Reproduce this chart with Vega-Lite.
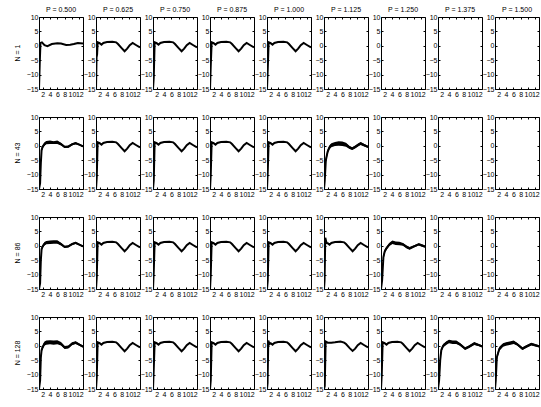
{
"$schema": "https://vega.github.io/schema/vega-lite/v6.json",
"padding": {"left": 14, "top": 6, "right": 0, "bottom": 0},
"bounds": "flush",
"spacing": {"row": 28, "column": 13},
"data": {"values": [
{"n":1,"p":"P = 0.500","x":1,"y":-15},{"n":1,"p":"P = 0.500","x":1.2,"y":-6},{"n":1,"p":"P = 0.500","x":1.4,"y":1.0},{"n":1,"p":"P = 0.500","x":1.8,"y":1.2},{"n":1,"p":"P = 0.500","x":2.5,"y":0.2},{"n":1,"p":"P = 0.500","x":3.3,"y":-0.1},{"n":1,"p":"P = 0.500","x":4.5,"y":0.6},{"n":1,"p":"P = 0.500","x":6,"y":0.9},{"n":1,"p":"P = 0.500","x":7,"y":0.8},{"n":1,"p":"P = 0.500","x":8.4,"y":0.3},{"n":1,"p":"P = 0.500","x":9.5,"y":0.4},{"n":1,"p":"P = 0.500","x":10.5,"y":0.6},{"n":1,"p":"P = 0.500","x":11.6,"y":1.0},{"n":1,"p":"P = 0.500","x":13,"y":0.8},

{"n":1,"p":"P = 0.625","x":1,"y":-15},{"n":1,"p":"P = 0.625","x":1.15,"y":-4},{"n":1,"p":"P = 0.625","x":1.3,"y":-3},{"n":1,"p":"P = 0.625","x":1.45,"y":1.2},{"n":1,"p":"P = 0.625","x":2,"y":0.9},{"n":1,"p":"P = 0.625","x":2.5,"y":0.4},{"n":1,"p":"P = 0.625","x":3,"y":1.0},{"n":1,"p":"P = 0.625","x":4,"y":1.3},{"n":1,"p":"P = 0.625","x":5.5,"y":1.4},{"n":1,"p":"P = 0.625","x":6.5,"y":1.2},{"n":1,"p":"P = 0.625","x":7,"y":0.6},{"n":1,"p":"P = 0.625","x":8,"y":-0.8},{"n":1,"p":"P = 0.625","x":8.8,"y":-1.9},{"n":1,"p":"P = 0.625","x":9.5,"y":-1.0},{"n":1,"p":"P = 0.625","x":10.2,"y":0.2},{"n":1,"p":"P = 0.625","x":11,"y":1.0},{"n":1,"p":"P = 0.625","x":12,"y":0.2},{"n":1,"p":"P = 0.625","x":13,"y":-0.6},

{"n":1,"p":"P = 0.750","x":1,"y":-15},{"n":1,"p":"P = 0.750","x":1.2,"y":-11},{"n":1,"p":"P = 0.750","x":1.45,"y":1.2},{"n":1,"p":"P = 0.750","x":2,"y":0.9},{"n":1,"p":"P = 0.750","x":2.5,"y":0.4},{"n":1,"p":"P = 0.750","x":3,"y":1.0},{"n":1,"p":"P = 0.750","x":4,"y":1.3},{"n":1,"p":"P = 0.750","x":5.5,"y":1.4},{"n":1,"p":"P = 0.750","x":6.5,"y":1.2},{"n":1,"p":"P = 0.750","x":7,"y":0.6},{"n":1,"p":"P = 0.750","x":8,"y":-0.8},{"n":1,"p":"P = 0.750","x":8.8,"y":-1.9},{"n":1,"p":"P = 0.750","x":9.5,"y":-1.0},{"n":1,"p":"P = 0.750","x":10.2,"y":0.2},{"n":1,"p":"P = 0.750","x":11,"y":1.0},{"n":1,"p":"P = 0.750","x":12,"y":0.2},{"n":1,"p":"P = 0.750","x":13,"y":-0.6},

{"n":1,"p":"P = 0.875","x":1,"y":-15},{"n":1,"p":"P = 0.875","x":1.2,"y":-7},{"n":1,"p":"P = 0.875","x":1.45,"y":1.2},{"n":1,"p":"P = 0.875","x":2,"y":0.9},{"n":1,"p":"P = 0.875","x":2.5,"y":0.4},{"n":1,"p":"P = 0.875","x":3,"y":1.0},{"n":1,"p":"P = 0.875","x":4,"y":1.3},{"n":1,"p":"P = 0.875","x":5.5,"y":1.4},{"n":1,"p":"P = 0.875","x":6.5,"y":1.2},{"n":1,"p":"P = 0.875","x":7,"y":0.6},{"n":1,"p":"P = 0.875","x":8,"y":-0.8},{"n":1,"p":"P = 0.875","x":8.8,"y":-1.9},{"n":1,"p":"P = 0.875","x":9.5,"y":-1.0},{"n":1,"p":"P = 0.875","x":10.2,"y":0.2},{"n":1,"p":"P = 0.875","x":11,"y":1.0},{"n":1,"p":"P = 0.875","x":12,"y":0.2},{"n":1,"p":"P = 0.875","x":13,"y":-0.6},

{"n":1,"p":"P = 1.000","x":1,"y":-15},{"n":1,"p":"P = 1.000","x":1.2,"y":-8},{"n":1,"p":"P = 1.000","x":1.45,"y":1.2},{"n":1,"p":"P = 1.000","x":2,"y":0.9},{"n":1,"p":"P = 1.000","x":2.5,"y":0.4},{"n":1,"p":"P = 1.000","x":3,"y":1.0},{"n":1,"p":"P = 1.000","x":4,"y":1.3},{"n":1,"p":"P = 1.000","x":5.5,"y":1.4},{"n":1,"p":"P = 1.000","x":6.5,"y":1.2},{"n":1,"p":"P = 1.000","x":7,"y":0.6},{"n":1,"p":"P = 1.000","x":8,"y":-0.8},{"n":1,"p":"P = 1.000","x":8.8,"y":-1.9},{"n":1,"p":"P = 1.000","x":9.5,"y":-1.0},{"n":1,"p":"P = 1.000","x":10.2,"y":0.2},{"n":1,"p":"P = 1.000","x":11,"y":1.0},{"n":1,"p":"P = 1.000","x":12,"y":0.2},{"n":1,"p":"P = 1.000","x":13,"y":-0.6},

{"n":1,"p":"P = 1.125"},{"n":1,"p":"P = 1.250"},{"n":1,"p":"P = 1.375"},{"n":1,"p":"P = 1.500"},

{"n":43,"p":"P = 0.500","x":1,"y":-15,"lo":-15,"hi":-15},{"n":43,"p":"P = 0.500","x":1.3,"y":-13,"lo":-13.5,"hi":-12.5},{"n":43,"p":"P = 0.500","x":1.5,"y":-6,"lo":-7,"hi":-5},{"n":43,"p":"P = 0.500","x":1.7,"y":-1.5,"lo":-2.3,"hi":-0.7},{"n":43,"p":"P = 0.500","x":2,"y":-0.3,"lo":-0.9,"hi":0.3},{"n":43,"p":"P = 0.500","x":2.5,"y":0.6,"lo":0,"hi":1.2},{"n":43,"p":"P = 0.500","x":3,"y":1.1,"lo":0.5,"hi":1.7},{"n":43,"p":"P = 0.500","x":4,"y":1.2,"lo":0.6,"hi":1.8},{"n":43,"p":"P = 0.500","x":5,"y":1.1,"lo":0.6,"hi":1.6},{"n":43,"p":"P = 0.500","x":6,"y":1.2,"lo":0.6,"hi":1.8},{"n":43,"p":"P = 0.500","x":7,"y":0.6,"lo":0.1,"hi":1.1},{"n":43,"p":"P = 0.500","x":8,"y":-0.4,"lo":-0.8,"hi":0},{"n":43,"p":"P = 0.500","x":9,"y":-0.3,"lo":-0.7,"hi":0.1},{"n":43,"p":"P = 0.500","x":10,"y":0.5,"lo":0.1,"hi":0.9},{"n":43,"p":"P = 0.500","x":11,"y":0.9,"lo":0.5,"hi":1.3},{"n":43,"p":"P = 0.500","x":12,"y":0.4,"lo":0.1,"hi":0.7},{"n":43,"p":"P = 0.500","x":13,"y":-0.2,"lo":-0.5,"hi":0.1},

{"n":43,"p":"P = 0.625","x":1,"y":-15},{"n":43,"p":"P = 0.625","x":1.2,"y":-11},{"n":43,"p":"P = 0.625","x":1.45,"y":1.2},{"n":43,"p":"P = 0.625","x":2,"y":0.9},{"n":43,"p":"P = 0.625","x":2.5,"y":0.4},{"n":43,"p":"P = 0.625","x":3,"y":1.0},{"n":43,"p":"P = 0.625","x":4,"y":1.3},{"n":43,"p":"P = 0.625","x":5.5,"y":1.4},{"n":43,"p":"P = 0.625","x":6.5,"y":1.2},{"n":43,"p":"P = 0.625","x":7,"y":0.6},{"n":43,"p":"P = 0.625","x":8,"y":-0.8},{"n":43,"p":"P = 0.625","x":8.8,"y":-1.9},{"n":43,"p":"P = 0.625","x":9.5,"y":-1.0},{"n":43,"p":"P = 0.625","x":10.2,"y":0.2},{"n":43,"p":"P = 0.625","x":11,"y":1.0},{"n":43,"p":"P = 0.625","x":12,"y":0.2},{"n":43,"p":"P = 0.625","x":13,"y":-0.6},

{"n":43,"p":"P = 0.750","x":1,"y":-15},{"n":43,"p":"P = 0.750","x":1.2,"y":-12},{"n":43,"p":"P = 0.750","x":1.45,"y":1.2},{"n":43,"p":"P = 0.750","x":2,"y":0.9},{"n":43,"p":"P = 0.750","x":2.5,"y":0.4},{"n":43,"p":"P = 0.750","x":3,"y":1.0},{"n":43,"p":"P = 0.750","x":4,"y":1.3},{"n":43,"p":"P = 0.750","x":5.5,"y":1.4},{"n":43,"p":"P = 0.750","x":6.5,"y":1.2},{"n":43,"p":"P = 0.750","x":7,"y":0.6},{"n":43,"p":"P = 0.750","x":8,"y":-0.8},{"n":43,"p":"P = 0.750","x":8.8,"y":-1.9},{"n":43,"p":"P = 0.750","x":9.5,"y":-1.0},{"n":43,"p":"P = 0.750","x":10.2,"y":0.2},{"n":43,"p":"P = 0.750","x":11,"y":1.0},{"n":43,"p":"P = 0.750","x":12,"y":0.2},{"n":43,"p":"P = 0.750","x":13,"y":-0.6},

{"n":43,"p":"P = 0.875","x":1,"y":-15},{"n":43,"p":"P = 0.875","x":1.2,"y":-10},{"n":43,"p":"P = 0.875","x":1.45,"y":1.2},{"n":43,"p":"P = 0.875","x":2,"y":0.9},{"n":43,"p":"P = 0.875","x":2.5,"y":0.4},{"n":43,"p":"P = 0.875","x":3,"y":1.0},{"n":43,"p":"P = 0.875","x":4,"y":1.3},{"n":43,"p":"P = 0.875","x":5.5,"y":1.4},{"n":43,"p":"P = 0.875","x":6.5,"y":1.2},{"n":43,"p":"P = 0.875","x":7,"y":0.6},{"n":43,"p":"P = 0.875","x":8,"y":-0.8},{"n":43,"p":"P = 0.875","x":8.8,"y":-1.9},{"n":43,"p":"P = 0.875","x":9.5,"y":-1.0},{"n":43,"p":"P = 0.875","x":10.2,"y":0.2},{"n":43,"p":"P = 0.875","x":11,"y":1.0},{"n":43,"p":"P = 0.875","x":12,"y":0.2},{"n":43,"p":"P = 0.875","x":13,"y":-0.6},

{"n":43,"p":"P = 1.000","x":1,"y":-15},{"n":43,"p":"P = 1.000","x":1.2,"y":-9},{"n":43,"p":"P = 1.000","x":1.45,"y":1.2},{"n":43,"p":"P = 1.000","x":2,"y":0.9},{"n":43,"p":"P = 1.000","x":2.5,"y":0.4},{"n":43,"p":"P = 1.000","x":3,"y":1.0},{"n":43,"p":"P = 1.000","x":4,"y":1.3},{"n":43,"p":"P = 1.000","x":5.5,"y":1.4},{"n":43,"p":"P = 1.000","x":6.5,"y":1.2},{"n":43,"p":"P = 1.000","x":7,"y":0.6},{"n":43,"p":"P = 1.000","x":8,"y":-0.8},{"n":43,"p":"P = 1.000","x":8.8,"y":-1.9},{"n":43,"p":"P = 1.000","x":9.5,"y":-1.0},{"n":43,"p":"P = 1.000","x":10.2,"y":0.2},{"n":43,"p":"P = 1.000","x":11,"y":1.0},{"n":43,"p":"P = 1.000","x":12,"y":0.2},{"n":43,"p":"P = 1.000","x":13,"y":-0.6},

{"n":43,"p":"P = 1.125","x":1,"y":-15,"lo":-15,"hi":-15},{"n":43,"p":"P = 1.125","x":1.2,"y":-12,"lo":-12.5,"hi":-11.5},{"n":43,"p":"P = 1.125","x":1.5,"y":-5,"lo":-6,"hi":-4},{"n":43,"p":"P = 1.125","x":2,"y":-2,"lo":-2.8,"hi":-1.2},{"n":43,"p":"P = 1.125","x":2.5,"y":-0.5,"lo":-1.2,"hi":0.2},{"n":43,"p":"P = 1.125","x":3,"y":0.2,"lo":-0.5,"hi":0.9},{"n":43,"p":"P = 1.125","x":4,"y":0.6,"lo":-0.1,"hi":1.3},{"n":43,"p":"P = 1.125","x":5,"y":0.8,"lo":0,"hi":1.6},{"n":43,"p":"P = 1.125","x":6,"y":0.7,"lo":-0.1,"hi":1.5},{"n":43,"p":"P = 1.125","x":7,"y":0.4,"lo":-0.3,"hi":1.1},{"n":43,"p":"P = 1.125","x":8,"y":-0.6,"lo":-1.1,"hi":-0.1},{"n":43,"p":"P = 1.125","x":8.7,"y":-1.0,"lo":-1.5,"hi":-0.5},{"n":43,"p":"P = 1.125","x":9.5,"y":-0.4,"lo":-0.9,"hi":0.1},{"n":43,"p":"P = 1.125","x":10.3,"y":0.3,"lo":-0.2,"hi":0.8},{"n":43,"p":"P = 1.125","x":11,"y":0.8,"lo":0.3,"hi":1.3},{"n":43,"p":"P = 1.125","x":12,"y":0.2,"lo":-0.2,"hi":0.6},{"n":43,"p":"P = 1.125","x":13,"y":-0.4,"lo":-0.8,"hi":0},

{"n":43,"p":"P = 1.250"},{"n":43,"p":"P = 1.375"},{"n":43,"p":"P = 1.500"},

{"n":86,"p":"P = 0.500","x":1,"y":-15,"lo":-15,"hi":-15},{"n":86,"p":"P = 0.500","x":1.3,"y":-13,"lo":-13.5,"hi":-12.5},{"n":86,"p":"P = 0.500","x":1.5,"y":-5,"lo":-6,"hi":-4},{"n":86,"p":"P = 0.500","x":1.7,"y":-1.2,"lo":-2,"hi":-0.4},{"n":86,"p":"P = 0.500","x":2,"y":-0.2,"lo":-0.8,"hi":0.4},{"n":86,"p":"P = 0.500","x":2.5,"y":0.7,"lo":0.1,"hi":1.3},{"n":86,"p":"P = 0.500","x":3,"y":1.1,"lo":0.5,"hi":1.7},{"n":86,"p":"P = 0.500","x":4,"y":1.2,"lo":0.6,"hi":1.8},{"n":86,"p":"P = 0.500","x":5,"y":1.3,"lo":0.7,"hi":1.9},{"n":86,"p":"P = 0.500","x":6,"y":1.3,"lo":0.7,"hi":1.9},{"n":86,"p":"P = 0.500","x":7,"y":0.6,"lo":0.1,"hi":1.1},{"n":86,"p":"P = 0.500","x":8,"y":-0.4,"lo":-0.8,"hi":0},{"n":86,"p":"P = 0.500","x":9,"y":-0.2,"lo":-0.6,"hi":0.2},{"n":86,"p":"P = 0.500","x":10,"y":0.6,"lo":0.2,"hi":1.0},{"n":86,"p":"P = 0.500","x":11,"y":1.0,"lo":0.6,"hi":1.4},{"n":86,"p":"P = 0.500","x":12,"y":0.4,"lo":0.1,"hi":0.7},{"n":86,"p":"P = 0.500","x":13,"y":-0.2,"lo":-0.5,"hi":0.1},

{"n":86,"p":"P = 0.625","x":1,"y":-15},{"n":86,"p":"P = 0.625","x":1.2,"y":-11},{"n":86,"p":"P = 0.625","x":1.45,"y":1.2},{"n":86,"p":"P = 0.625","x":2,"y":0.9},{"n":86,"p":"P = 0.625","x":2.5,"y":0.4},{"n":86,"p":"P = 0.625","x":3,"y":1.0},{"n":86,"p":"P = 0.625","x":4,"y":1.3},{"n":86,"p":"P = 0.625","x":5.5,"y":1.4},{"n":86,"p":"P = 0.625","x":6.5,"y":1.2},{"n":86,"p":"P = 0.625","x":7,"y":0.6},{"n":86,"p":"P = 0.625","x":8,"y":-0.8},{"n":86,"p":"P = 0.625","x":8.8,"y":-1.9},{"n":86,"p":"P = 0.625","x":9.5,"y":-1.0},{"n":86,"p":"P = 0.625","x":10.2,"y":0.2},{"n":86,"p":"P = 0.625","x":11,"y":1.0},{"n":86,"p":"P = 0.625","x":12,"y":0.2},{"n":86,"p":"P = 0.625","x":13,"y":-0.6},

{"n":86,"p":"P = 0.750","x":1,"y":-15},{"n":86,"p":"P = 0.750","x":1.2,"y":-9},{"n":86,"p":"P = 0.750","x":1.45,"y":1.2},{"n":86,"p":"P = 0.750","x":2,"y":0.9},{"n":86,"p":"P = 0.750","x":2.5,"y":0.4},{"n":86,"p":"P = 0.750","x":3,"y":1.0},{"n":86,"p":"P = 0.750","x":4,"y":1.3},{"n":86,"p":"P = 0.750","x":5.5,"y":1.4},{"n":86,"p":"P = 0.750","x":6.5,"y":1.2},{"n":86,"p":"P = 0.750","x":7,"y":0.6},{"n":86,"p":"P = 0.750","x":8,"y":-0.8},{"n":86,"p":"P = 0.750","x":8.8,"y":-1.9},{"n":86,"p":"P = 0.750","x":9.5,"y":-1.0},{"n":86,"p":"P = 0.750","x":10.2,"y":0.2},{"n":86,"p":"P = 0.750","x":11,"y":1.0},{"n":86,"p":"P = 0.750","x":12,"y":0.2},{"n":86,"p":"P = 0.750","x":13,"y":-0.6},

{"n":86,"p":"P = 0.875","x":1,"y":-15},{"n":86,"p":"P = 0.875","x":1.2,"y":-10},{"n":86,"p":"P = 0.875","x":1.45,"y":1.2},{"n":86,"p":"P = 0.875","x":2,"y":0.9},{"n":86,"p":"P = 0.875","x":2.5,"y":0.4},{"n":86,"p":"P = 0.875","x":3,"y":1.0},{"n":86,"p":"P = 0.875","x":4,"y":1.3},{"n":86,"p":"P = 0.875","x":5.5,"y":1.4},{"n":86,"p":"P = 0.875","x":6.5,"y":1.2},{"n":86,"p":"P = 0.875","x":7,"y":0.6},{"n":86,"p":"P = 0.875","x":8,"y":-0.8},{"n":86,"p":"P = 0.875","x":8.8,"y":-1.9},{"n":86,"p":"P = 0.875","x":9.5,"y":-1.0},{"n":86,"p":"P = 0.875","x":10.2,"y":0.2},{"n":86,"p":"P = 0.875","x":11,"y":1.0},{"n":86,"p":"P = 0.875","x":12,"y":0.2},{"n":86,"p":"P = 0.875","x":13,"y":-0.6},

{"n":86,"p":"P = 1.000","x":1,"y":-15},{"n":86,"p":"P = 1.000","x":1.2,"y":-12},{"n":86,"p":"P = 1.000","x":1.45,"y":1.2},{"n":86,"p":"P = 1.000","x":2,"y":0.9},{"n":86,"p":"P = 1.000","x":2.5,"y":0.4},{"n":86,"p":"P = 1.000","x":3,"y":1.0},{"n":86,"p":"P = 1.000","x":4,"y":1.3},{"n":86,"p":"P = 1.000","x":5.5,"y":1.4},{"n":86,"p":"P = 1.000","x":6.5,"y":1.2},{"n":86,"p":"P = 1.000","x":7,"y":0.6},{"n":86,"p":"P = 1.000","x":8,"y":-0.8},{"n":86,"p":"P = 1.000","x":8.8,"y":-1.9},{"n":86,"p":"P = 1.000","x":9.5,"y":-1.0},{"n":86,"p":"P = 1.000","x":10.2,"y":0.2},{"n":86,"p":"P = 1.000","x":11,"y":1.0},{"n":86,"p":"P = 1.000","x":12,"y":0.2},{"n":86,"p":"P = 1.000","x":13,"y":-0.6},

{"n":86,"p":"P = 1.125","x":1,"y":-15},{"n":86,"p":"P = 1.125","x":1.15,"y":-12},{"n":86,"p":"P = 1.125","x":1.35,"y":2.8},{"n":86,"p":"P = 1.125","x":1.7,"y":1.0},{"n":86,"p":"P = 1.125","x":2,"y":0.9},{"n":86,"p":"P = 1.125","x":2.5,"y":0.4},{"n":86,"p":"P = 1.125","x":3,"y":1.0},{"n":86,"p":"P = 1.125","x":4,"y":1.3},{"n":86,"p":"P = 1.125","x":5.5,"y":1.4},{"n":86,"p":"P = 1.125","x":6.5,"y":1.2},{"n":86,"p":"P = 1.125","x":7,"y":0.6},{"n":86,"p":"P = 1.125","x":8,"y":-0.8},{"n":86,"p":"P = 1.125","x":8.8,"y":-1.9},{"n":86,"p":"P = 1.125","x":9.5,"y":-1.0},{"n":86,"p":"P = 1.125","x":10.2,"y":0.2},{"n":86,"p":"P = 1.125","x":11,"y":1.0},{"n":86,"p":"P = 1.125","x":12,"y":0.2},{"n":86,"p":"P = 1.125","x":13,"y":-0.6},

{"n":86,"p":"P = 1.250","x":1,"y":-15,"lo":-15,"hi":-15},{"n":86,"p":"P = 1.250","x":1.3,"y":-12,"lo":-12.5,"hi":-11.5},{"n":86,"p":"P = 1.250","x":1.65,"y":-4,"lo":-5,"hi":-3},{"n":86,"p":"P = 1.250","x":2,"y":-2,"lo":-2.7,"hi":-1.3},{"n":86,"p":"P = 1.250","x":2.4,"y":-1,"lo":-1.6,"hi":-0.4},{"n":86,"p":"P = 1.250","x":3.3,"y":0.5,"lo":-0.1,"hi":1.1},{"n":86,"p":"P = 1.250","x":4.1,"y":1.2,"lo":0.6,"hi":1.8},{"n":86,"p":"P = 1.250","x":5,"y":0.9,"lo":0.3,"hi":1.5},{"n":86,"p":"P = 1.250","x":6,"y":0.8,"lo":0.2,"hi":1.4},{"n":86,"p":"P = 1.250","x":7,"y":0.5,"lo":0,"hi":1.0},{"n":86,"p":"P = 1.250","x":8,"y":-0.4,"lo":-0.9,"hi":0.1},{"n":86,"p":"P = 1.250","x":8.8,"y":-0.9,"lo":-1.4,"hi":-0.4},{"n":86,"p":"P = 1.250","x":10,"y":-0.2,"lo":-0.6,"hi":0.2},{"n":86,"p":"P = 1.250","x":11.3,"y":0.5,"lo":0.1,"hi":0.9},{"n":86,"p":"P = 1.250","x":12,"y":0.2,"lo":-0.2,"hi":0.6},{"n":86,"p":"P = 1.250","x":13,"y":-0.3,"lo":-0.7,"hi":0.1},

{"n":86,"p":"P = 1.375"},{"n":86,"p":"P = 1.500"},

{"n":128,"p":"P = 0.500","x":1,"y":-15,"lo":-15,"hi":-15},{"n":128,"p":"P = 0.500","x":1.3,"y":-12,"lo":-12.6,"hi":-11.4},{"n":128,"p":"P = 0.500","x":1.5,"y":-4,"lo":-5,"hi":-3},{"n":128,"p":"P = 0.500","x":1.7,"y":-1.5,"lo":-2.3,"hi":-0.7},{"n":128,"p":"P = 0.500","x":2,"y":-0.5,"lo":-1.2,"hi":0.2},{"n":128,"p":"P = 0.500","x":2.5,"y":0.8,"lo":0.1,"hi":1.5},{"n":128,"p":"P = 0.500","x":3,"y":1.1,"lo":0.4,"hi":1.8},{"n":128,"p":"P = 0.500","x":4,"y":1.2,"lo":0.5,"hi":1.9},{"n":128,"p":"P = 0.500","x":5,"y":1.1,"lo":0.4,"hi":1.8},{"n":128,"p":"P = 0.500","x":6,"y":1.2,"lo":0.5,"hi":1.9},{"n":128,"p":"P = 0.500","x":7,"y":0.7,"lo":0.1,"hi":1.3},{"n":128,"p":"P = 0.500","x":8,"y":-0.6,"lo":-1.1,"hi":-0.1},{"n":128,"p":"P = 0.500","x":9,"y":-0.4,"lo":-0.9,"hi":0.1},{"n":128,"p":"P = 0.500","x":10,"y":0.7,"lo":0.2,"hi":1.2},{"n":128,"p":"P = 0.500","x":11,"y":1.1,"lo":0.6,"hi":1.6},{"n":128,"p":"P = 0.500","x":12,"y":0.4,"lo":0,"hi":0.8},{"n":128,"p":"P = 0.500","x":13,"y":-0.3,"lo":-0.7,"hi":0.1},

{"n":128,"p":"P = 0.625","x":1,"y":-15},{"n":128,"p":"P = 0.625","x":1.2,"y":-11},{"n":128,"p":"P = 0.625","x":1.45,"y":1.2},{"n":128,"p":"P = 0.625","x":2,"y":0.9},{"n":128,"p":"P = 0.625","x":2.5,"y":0.4},{"n":128,"p":"P = 0.625","x":3,"y":1.0},{"n":128,"p":"P = 0.625","x":4,"y":1.3},{"n":128,"p":"P = 0.625","x":5.5,"y":1.4},{"n":128,"p":"P = 0.625","x":6.5,"y":1.2},{"n":128,"p":"P = 0.625","x":7,"y":0.6},{"n":128,"p":"P = 0.625","x":8,"y":-0.8},{"n":128,"p":"P = 0.625","x":8.8,"y":-1.9},{"n":128,"p":"P = 0.625","x":9.5,"y":-1.0},{"n":128,"p":"P = 0.625","x":10.2,"y":0.2},{"n":128,"p":"P = 0.625","x":11,"y":1.0},{"n":128,"p":"P = 0.625","x":12,"y":0.2},{"n":128,"p":"P = 0.625","x":13,"y":-0.6},

{"n":128,"p":"P = 0.750","x":1,"y":-15},{"n":128,"p":"P = 0.750","x":1.2,"y":-8},{"n":128,"p":"P = 0.750","x":1.45,"y":1.2},{"n":128,"p":"P = 0.750","x":2,"y":0.9},{"n":128,"p":"P = 0.750","x":2.5,"y":0.4},{"n":128,"p":"P = 0.750","x":3,"y":1.0},{"n":128,"p":"P = 0.750","x":4,"y":1.3},{"n":128,"p":"P = 0.750","x":5.5,"y":1.4},{"n":128,"p":"P = 0.750","x":6.5,"y":1.2},{"n":128,"p":"P = 0.750","x":7,"y":0.6},{"n":128,"p":"P = 0.750","x":8,"y":-0.8},{"n":128,"p":"P = 0.750","x":8.8,"y":-1.9},{"n":128,"p":"P = 0.750","x":9.5,"y":-1.0},{"n":128,"p":"P = 0.750","x":10.2,"y":0.2},{"n":128,"p":"P = 0.750","x":11,"y":1.0},{"n":128,"p":"P = 0.750","x":12,"y":0.2},{"n":128,"p":"P = 0.750","x":13,"y":-0.6},

{"n":128,"p":"P = 0.875","x":1,"y":-15},{"n":128,"p":"P = 0.875","x":1.2,"y":-12},{"n":128,"p":"P = 0.875","x":1.45,"y":1.2},{"n":128,"p":"P = 0.875","x":2,"y":0.9},{"n":128,"p":"P = 0.875","x":2.5,"y":0.4},{"n":128,"p":"P = 0.875","x":3,"y":1.0},{"n":128,"p":"P = 0.875","x":4,"y":1.3},{"n":128,"p":"P = 0.875","x":5.5,"y":1.4},{"n":128,"p":"P = 0.875","x":6.5,"y":1.2},{"n":128,"p":"P = 0.875","x":7,"y":0.6},{"n":128,"p":"P = 0.875","x":8,"y":-0.8},{"n":128,"p":"P = 0.875","x":8.8,"y":-1.9},{"n":128,"p":"P = 0.875","x":9.5,"y":-1.0},{"n":128,"p":"P = 0.875","x":10.2,"y":0.2},{"n":128,"p":"P = 0.875","x":11,"y":1.0},{"n":128,"p":"P = 0.875","x":12,"y":0.2},{"n":128,"p":"P = 0.875","x":13,"y":-0.6},

{"n":128,"p":"P = 1.000","x":1,"y":-15},{"n":128,"p":"P = 1.000","x":1.15,"y":-13},{"n":128,"p":"P = 1.000","x":1.35,"y":1.8},{"n":128,"p":"P = 1.000","x":1.7,"y":0.6},{"n":128,"p":"P = 1.000","x":2,"y":0.9},{"n":128,"p":"P = 1.000","x":2.5,"y":0.4},{"n":128,"p":"P = 1.000","x":3,"y":1.0},{"n":128,"p":"P = 1.000","x":4,"y":1.3},{"n":128,"p":"P = 1.000","x":5.5,"y":1.4},{"n":128,"p":"P = 1.000","x":6.5,"y":1.2},{"n":128,"p":"P = 1.000","x":7,"y":0.6},{"n":128,"p":"P = 1.000","x":8,"y":-0.8},{"n":128,"p":"P = 1.000","x":8.8,"y":-1.9},{"n":128,"p":"P = 1.000","x":9.5,"y":-1.0},{"n":128,"p":"P = 1.000","x":10.2,"y":0.2},{"n":128,"p":"P = 1.000","x":11,"y":1.0},{"n":128,"p":"P = 1.000","x":12,"y":0.2},{"n":128,"p":"P = 1.000","x":13,"y":-0.6},

{"n":128,"p":"P = 1.125","x":1,"y":-15},{"n":128,"p":"P = 1.125","x":1.2,"y":-14},{"n":128,"p":"P = 1.125","x":1.45,"y":1.5},{"n":128,"p":"P = 1.125","x":2,"y":1.1},{"n":128,"p":"P = 1.125","x":2.5,"y":1.1},{"n":128,"p":"P = 1.125","x":3,"y":1.1},{"n":128,"p":"P = 1.125","x":4,"y":1.2},{"n":128,"p":"P = 1.125","x":5.5,"y":1.5},{"n":128,"p":"P = 1.125","x":6.5,"y":1.1},{"n":128,"p":"P = 1.125","x":7,"y":0.6},{"n":128,"p":"P = 1.125","x":8,"y":-0.8},{"n":128,"p":"P = 1.125","x":8.8,"y":-1.8},{"n":128,"p":"P = 1.125","x":9.5,"y":-1.0},{"n":128,"p":"P = 1.125","x":10.2,"y":0.2},{"n":128,"p":"P = 1.125","x":11,"y":1.0},{"n":128,"p":"P = 1.125","x":12,"y":0.2},{"n":128,"p":"P = 1.125","x":13,"y":-0.6},

{"n":128,"p":"P = 1.250","x":1,"y":-15},{"n":128,"p":"P = 1.250","x":1.2,"y":-10},{"n":128,"p":"P = 1.250","x":1.45,"y":1.2},{"n":128,"p":"P = 1.250","x":2,"y":0.9},{"n":128,"p":"P = 1.250","x":2.5,"y":0.4},{"n":128,"p":"P = 1.250","x":3,"y":1.0},{"n":128,"p":"P = 1.250","x":4,"y":1.3},{"n":128,"p":"P = 1.250","x":5.5,"y":1.4},{"n":128,"p":"P = 1.250","x":6.5,"y":1.2},{"n":128,"p":"P = 1.250","x":7,"y":0.6},{"n":128,"p":"P = 1.250","x":8,"y":-0.8},{"n":128,"p":"P = 1.250","x":8.8,"y":-1.9},{"n":128,"p":"P = 1.250","x":9.5,"y":-1.0},{"n":128,"p":"P = 1.250","x":10.2,"y":0.2},{"n":128,"p":"P = 1.250","x":11,"y":1.0},{"n":128,"p":"P = 1.250","x":12,"y":0.2},{"n":128,"p":"P = 1.250","x":13,"y":-0.6},

{"n":128,"p":"P = 1.375","x":1,"y":-15,"lo":-15,"hi":-15},{"n":128,"p":"P = 1.375","x":1.3,"y":-12,"lo":-12.5,"hi":-11.5},{"n":128,"p":"P = 1.375","x":1.6,"y":-5,"lo":-6,"hi":-4},{"n":128,"p":"P = 1.375","x":1.9,"y":-1.5,"lo":-2.2,"hi":-0.8},{"n":128,"p":"P = 1.375","x":2.4,"y":0,"lo":-0.6,"hi":0.6},{"n":128,"p":"P = 1.375","x":3.3,"y":1.0,"lo":0.4,"hi":1.6},{"n":128,"p":"P = 1.375","x":4,"y":1.5,"lo":0.9,"hi":2.1},{"n":128,"p":"P = 1.375","x":5,"y":1.2,"lo":0.6,"hi":1.8},{"n":128,"p":"P = 1.375","x":6,"y":1.2,"lo":0.6,"hi":1.8},{"n":128,"p":"P = 1.375","x":7,"y":0.5,"lo":0,"hi":1.0},{"n":128,"p":"P = 1.375","x":8.4,"y":-1.0,"lo":-1.5,"hi":-0.5},{"n":128,"p":"P = 1.375","x":9.5,"y":-0.3,"lo":-0.8,"hi":0.2},{"n":128,"p":"P = 1.375","x":10.9,"y":0.8,"lo":0.3,"hi":1.3},{"n":128,"p":"P = 1.375","x":12,"y":0.3,"lo":-0.1,"hi":0.7},{"n":128,"p":"P = 1.375","x":13,"y":-0.2,"lo":-0.6,"hi":0.2},

{"n":128,"p":"P = 1.500","x":1,"y":-15,"lo":-15,"hi":-15},{"n":128,"p":"P = 1.500","x":1.2,"y":-12,"lo":-12.5,"hi":-11.5},{"n":128,"p":"P = 1.500","x":1.5,"y":-4,"lo":-5,"hi":-3},{"n":128,"p":"P = 1.500","x":2.2,"y":-1,"lo":-1.7,"hi":-0.3},{"n":128,"p":"P = 1.500","x":3.2,"y":0.3,"lo":-0.3,"hi":0.9},{"n":128,"p":"P = 1.500","x":4,"y":0.6,"lo":0,"hi":1.2},{"n":128,"p":"P = 1.500","x":5,"y":0.9,"lo":0.3,"hi":1.5},{"n":128,"p":"P = 1.500","x":6.1,"y":1.2,"lo":0.6,"hi":1.8},{"n":128,"p":"P = 1.500","x":7,"y":0.6,"lo":0.1,"hi":1.1},{"n":128,"p":"P = 1.500","x":8.5,"y":-1.0,"lo":-1.5,"hi":-0.5},{"n":128,"p":"P = 1.500","x":9.5,"y":-0.3,"lo":-0.8,"hi":0.2},{"n":128,"p":"P = 1.500","x":10.9,"y":0.6,"lo":0.1,"hi":1.1},{"n":128,"p":"P = 1.500","x":12,"y":0.2,"lo":-0.2,"hi":0.6},{"n":128,"p":"P = 1.500","x":13,"y":-0.2,"lo":-0.6,"hi":0.2}
]},
"facet": {
  "row": {"field": "n", "type": "ordinal", "header": {"title": null, "labelExpr": "'N = ' + datum.value", "labelFontSize": 7, "labelColor": "black", "labelFont": "Liberation Sans", "labelPadding": 18}},
  "column": {"field": "p", "type": "nominal", "header": {"title": null, "labelFontSize": 7, "labelColor": "black", "labelFont": "Liberation Sans", "labelPadding": 4}}
},
"spec": {
  "width": 44,
  "height": 72,
  "layer": [
    {"mark": {"type": "area", "color": "black", "opacity": 1, "clip": true},
     "encoding": {
       "x": {"field": "x", "type": "quantitative", "scale": {"domain": [1, 13]}, "axis": {"title": null, "values": [2, 4, 6, 8, 10, 12]}},
       "y": {"field": "lo", "type": "quantitative", "scale": {"domain": [-15, 10]}, "axis": {"title": null, "values": [-15, -10, -5, 0, 5, 10]}},
       "y2": {"field": "hi"}
     }},
    {"mark": {"type": "line", "color": "black", "strokeWidth": 2, "clip": true},
     "encoding": {
       "x": {"field": "x", "type": "quantitative", "scale": {"domain": [1, 13]}, "axis": {"title": null, "orient": "top", "labels": false, "domain": false, "values": [2, 4, 6, 8, 10, 12]}},
       "y": {"field": "y", "type": "quantitative", "scale": {"domain": [-15, 10]}, "axis": {"title": null, "orient": "right", "labels": false, "domain": false, "values": [-15, -10, -5, 0, 5, 10]}}
     }}
  ],
  "resolve": {"axis": {"x": "independent", "y": "independent"}}
},
"resolve": {"axis": {"x": "independent", "y": "independent"}},
"config": {
  "font": "Liberation Sans",
  "view": {"stroke": "black", "strokeWidth": 1},
  "axis": {"labelFontSize": 7, "labelColor": "black", "labelFont": "Liberation Sans", "domainColor": "black", "tickColor": "black", "tickSize": -2, "labelPadding": 3, "grid": false, "labelOverlap": false, "labelFlush": false, "labelBound": false}
}
}
